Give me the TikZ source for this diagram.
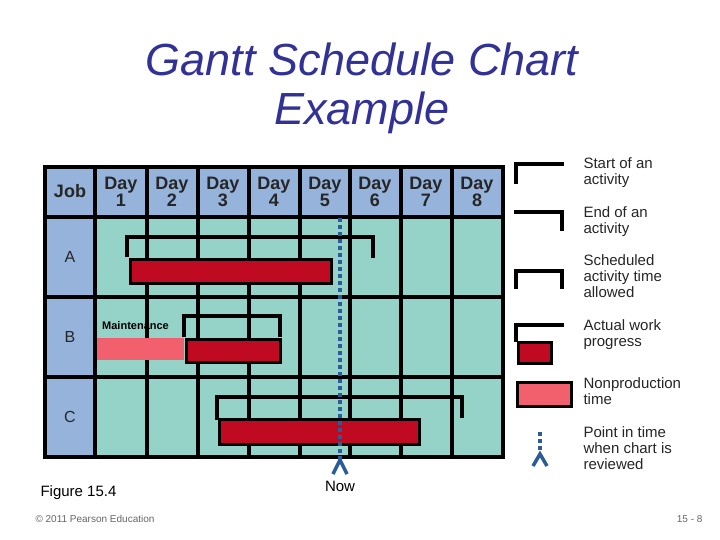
\documentclass[tikz,border=0pt]{standalone}
\usepackage{fontspec}
\setmainfont{Liberation Sans}
\definecolor{hdr}{HTML}{95B3DB}
\definecolor{cell}{HTML}{95D2C7}
\definecolor{bar}{HTML}{C00A22}
\definecolor{pinkb}{HTML}{F2606E}
\definecolor{ttl}{HTML}{323296}
\definecolor{nowb}{HTML}{2B5C9A}
\begin{document}
\begin{tikzpicture}[x=1pt,y=-1pt,
  grid/.style={line width=4pt,black},
  brk/.style={line width=4.5pt,black,line cap=rect},
  work/.style={fill=bar,draw=black,line width=3pt},
  nonp/.style={fill=pinkb},
  hd/.style={font=\bfseries\fontsize{18}{19}\selectfont,align=center,text=black!85},
  rl/.style={font=\fontsize{16}{17}\selectfont,text=black!85},
  lg/.style={anchor=north west,align=left,font=\fontsize{15}{16}\selectfont,text=black!85},
  nowline/.style={nowb,line width=4pt,dash pattern=on 4pt off 3pt},
  chev/.style={nowb,line width=3.5pt}]
\useasboundingbox[fill=white] (0,0) rectangle (720,540);
% title
\node[text=ttl,font=\itshape\fontsize{45}{49}\selectfont,align=center] (title) at (362,88) {Gantt Schedule Chart\\Example};
% backgrounds
\fill[hdr] (45,167) rectangle (503,217);
\fill[hdr] (45,217) rectangle (95,457);
\fill[cell] (95,217) rectangle (503,457);
% grid
\foreach \x in {45,95,147,198,249,300,350,401,452,503} \draw[grid] (\x,167) -- (\x,457);
\foreach \y in {167,217,297,377,457} \draw[grid] (43,\y) -- (505,\y);
% header
\node[hd] (job) at (70,191) {Job};
\foreach \i/\x in {1/121,2/172,3/223,4/274,5/325,6/375,7/426,8/477}
  \node[hd] (d\i) at (\x,192) {Day\\[-2pt]\i};
\node[rl] (ra) at (70,257) {A};
\node[rl] (rb) at (70,337) {B};
\node[rl] (rc) at (70,417) {C};
% row A
\draw[brk] (127,255) -- (127,237) -- (373,237) -- (373,256);
\node[work,minimum width=201pt,minimum height=24pt,inner sep=0pt,anchor=north west] (barA) at (128.5,258) {};
% row B
\node[nonp,minimum width=87pt,minimum height=22pt,inner sep=0pt,anchor=north west] (pinkB) at (97,338) {};
\draw[brk] (184,335) -- (184,316) -- (280,316) -- (280,335);
\node[work,minimum width=94pt,minimum height=23pt,inner sep=0pt,anchor=north west] (barB) at (185,338) {};
\node[font=\bfseries\fontsize{11}{12}\selectfont,anchor=west,inner sep=0pt] (maint) at (102,326) {Maintenance};
% row C
\draw[brk] (217,418) -- (217,397) -- (462,397) -- (462,416);
\node[work,minimum width=200pt,minimum height=25pt,inner sep=0pt,anchor=north west] (barC) at (218,418) {};
% now line
\coordinate (nowtop) at (340,218);
\coordinate (nowbot) at (340,462);
\draw[nowline] (nowtop) -- (nowbot);
\draw[chev] (333,474) -- (340,460) -- (347,474);
\node[font=\fontsize{15}{16}\selectfont] (now) at (340,486) {Now};
% legend
\draw[brk] (516,182) -- (516,164) -- (562,164);
\node[lg] (l1) at (580,154) {Start of an\\activity};
\draw[brk] (516,212) -- (562,212) -- (562,229);
\node[lg] (l2) at (580,203) {End of an\\activity};
\draw[brk] (516,287) -- (516,271) -- (562,271) -- (562,287);
\node[lg] (l3) at (580,251) {Scheduled\\activity time\\allowed};
\draw[brk] (516,340) -- (516,325) -- (562,325);
\node[work,minimum width=33pt,minimum height=21pt,inner sep=0pt,anchor=north west] (l4b) at (517,341) {};
\node[lg] (l4) at (580,316) {Actual work\\progress};
\node[nonp,draw=black,line width=3pt,minimum width=54pt,minimum height=24pt,inner sep=0pt,anchor=north west] (l5b) at (516,381) {};
\node[lg] (l5) at (580,374) {Nonproduction\\time};
\coordinate (ptop) at (540,432);
\coordinate (pbot) at (540,451);
\draw[nowline,line width=3.5pt] (ptop) -- (pbot);
\draw[chev] (533,466) -- (540,454) -- (547,466);
\node[lg] (l6) at (580,423) {Point in time\\when chart is\\reviewed};
% footer
\node[anchor=west,font=\fontsize{15}{16}\selectfont] (fig) at (37,493) {Figure 15.4};
\node[anchor=west,font=\fontsize{10}{11}\selectfont,text=black!60] (copy) at (32,519) {© 2011 Pearson Education};
\node[anchor=east,font=\fontsize{10}{11}\selectfont,text=black!60] (pg) at (706,519) {15 - 8};
\end{tikzpicture}
\end{document}
